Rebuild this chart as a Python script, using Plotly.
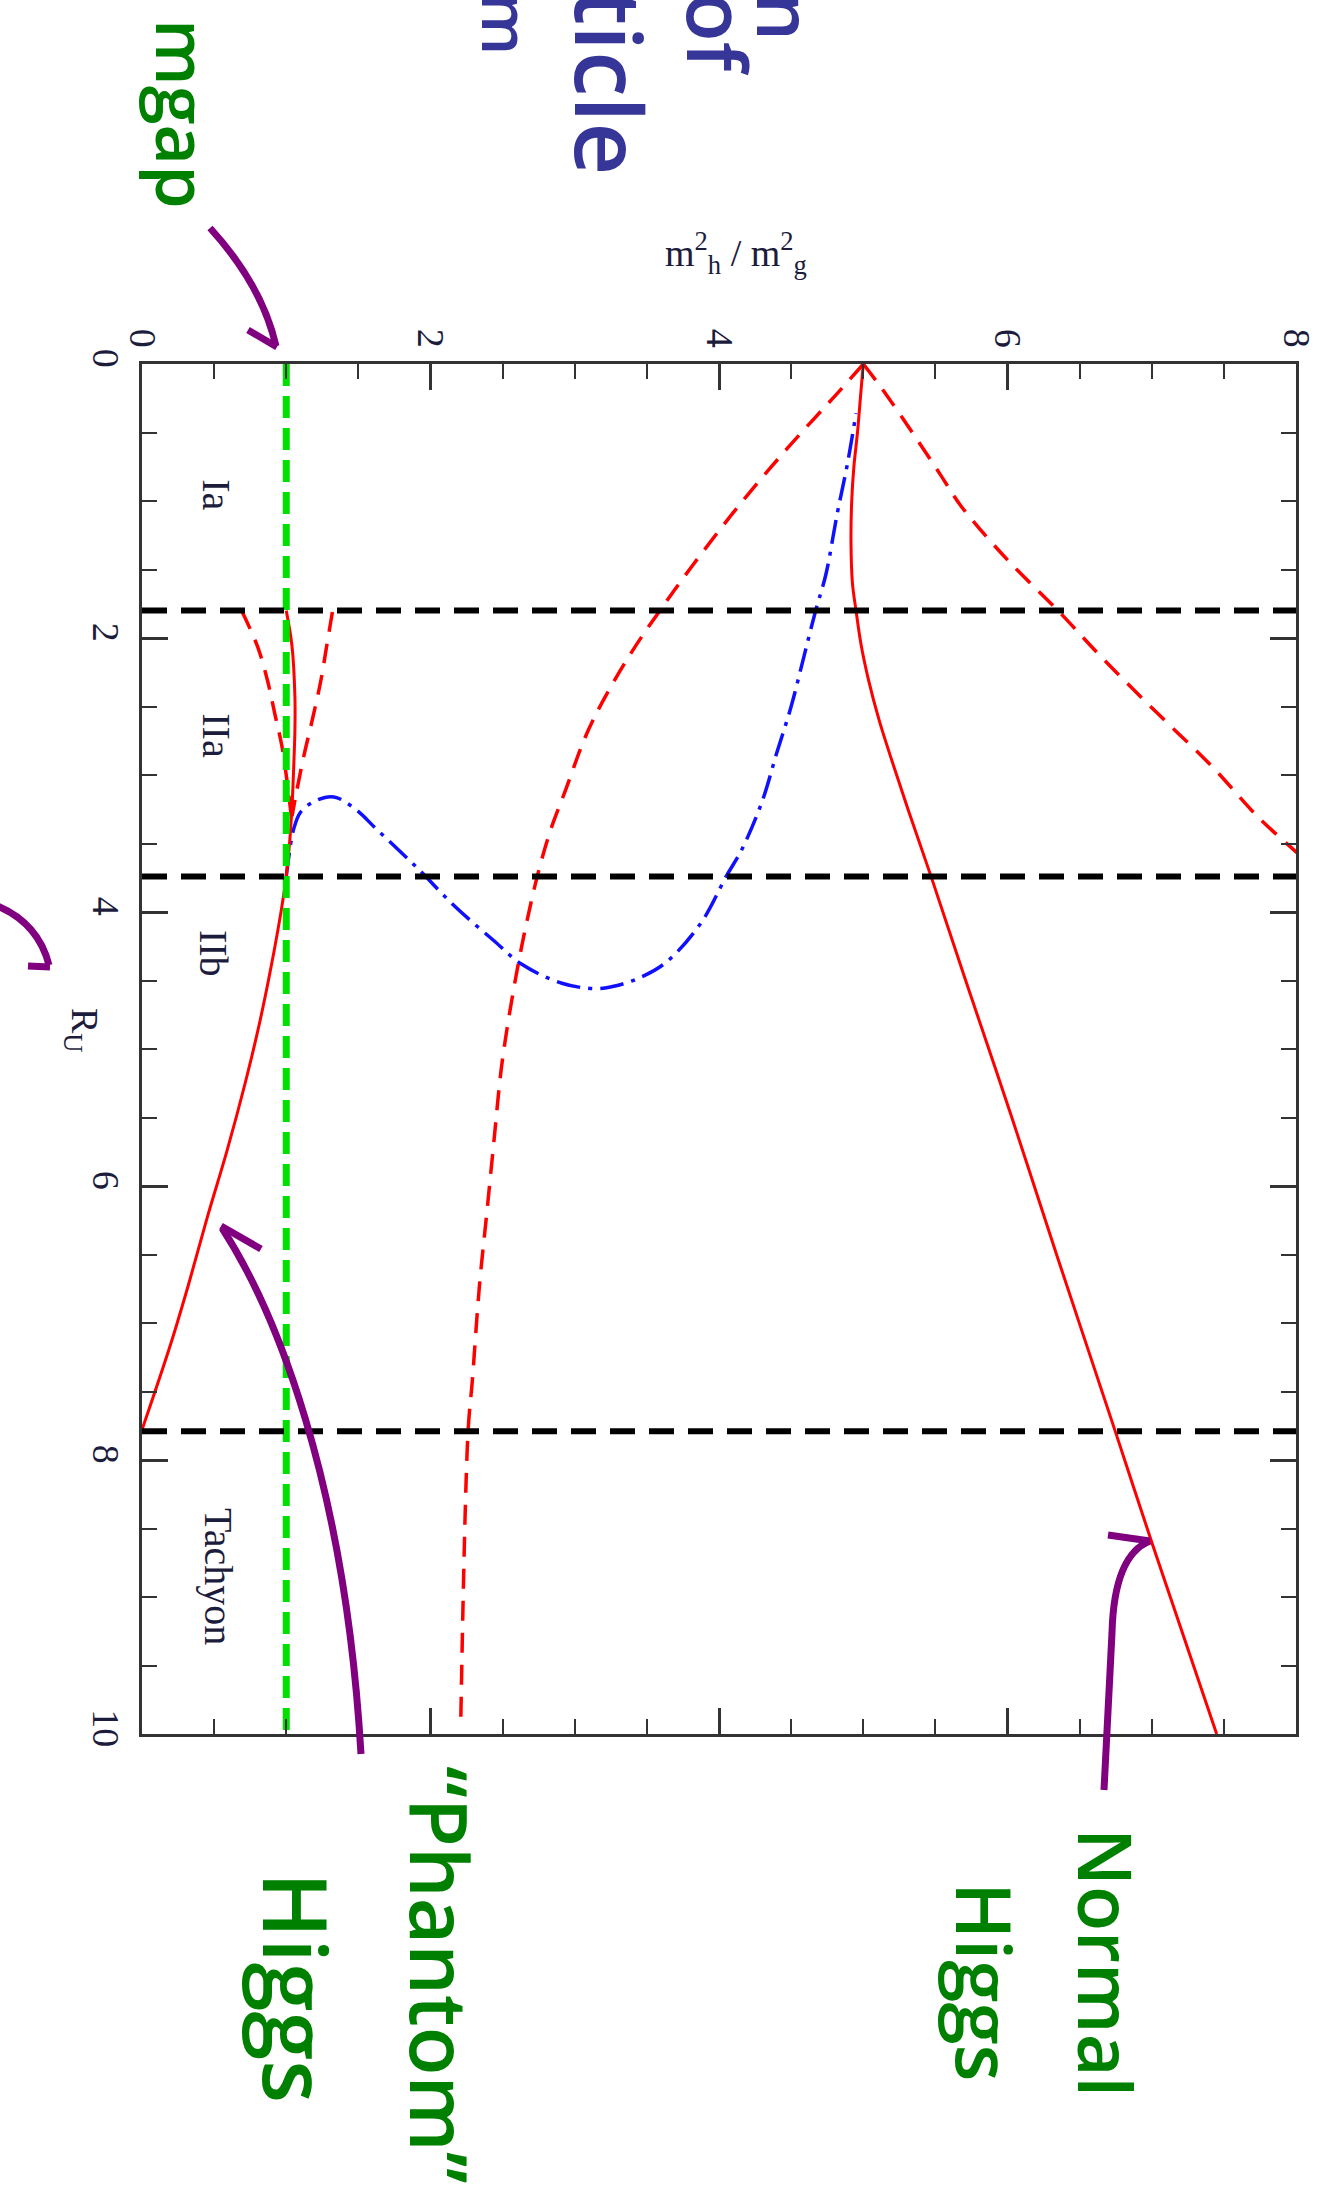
import plotly.graph_objects as go

# ---------------- data ----------------
# Regime boundaries along R_U and the mass-gap reference level
boundary_R = [1.80, 3.74, 7.79]
gap_level = 1.0

region_names = ["Ia", "IIa", "IIb", "Tachyon"]
region_R = [0.95, 2.71, 4.30, 8.85]
region_m = [0.52, 0.52, 0.50, 0.53]

# "Normal" Higgs branch (solid)
normal_R = [0.0, 0.25, 0.5, 0.75, 1.0, 1.3, 1.6, 1.8, 2.05, 2.3, 2.6, 2.9, 3.25,
            3.74, 4.5, 5.5, 6.5, 7.8, 8.6, 10.0]
normal_m = [5.0, 4.98, 4.96, 4.935, 4.92, 4.915, 4.925, 4.95, 4.985, 5.035, 5.11,
            5.2, 5.31, 5.47, 5.71, 6.03, 6.34, 6.75, 7.0, 7.45]

# "Phantom" Higgs branch (solid)
phantom_R = [1.8, 2.06, 2.43, 2.67, 2.99, 3.23, 3.47, 3.74, 3.99, 4.40, 4.81,
             5.25, 5.74, 6.22, 6.71, 7.15, 7.78]
phantom_m = [1.0, 1.04, 1.06, 1.06, 1.05, 1.04, 1.025, 1.0, 0.965, 0.895, 0.815,
             0.715, 0.59, 0.455, 0.325, 0.2, 0.0]

# Dashed branch rising to the right of the cusp
upper_R = [0.0, 0.18, 0.5, 0.8, 1.04, 1.43, 1.8, 2.16, 2.55, 2.94, 3.31, 3.57, 3.75]
upper_m = [5.0, 5.13, 5.34, 5.53, 5.68, 6.0, 6.35, 6.67, 7.04, 7.42, 7.74, 8.01, 8.2]

# Dashed branch falling to the left of the cusp
lower_R = [0.0, 0.18, 0.62, 1.07, 1.48, 1.80, 2.11, 2.47, 2.73, 3.10, 3.41, 3.74,
           4.06, 4.37, 4.79, 5.15, 5.67, 6.20, 6.72, 7.42, 7.8, 9.9]
lower_m = [5.0, 4.85, 4.47, 4.11, 3.81, 3.59, 3.39, 3.19, 3.07, 2.94, 2.83, 2.74,
           2.67, 2.61, 2.54, 2.49, 2.44, 2.39, 2.34, 2.29, 2.26, 2.21]

# Short dashed pair in regime IIa
vleft_R = [1.8, 2.06, 2.31, 2.55, 2.79, 3.04, 3.3]
vleft_m = [0.69, 0.80, 0.87, 0.92, 0.97, 1.005, 1.035]
vright_R = [1.81, 2.06, 2.31, 2.60, 2.87, 3.13, 3.3]
vright_m = [1.32, 1.28, 1.24, 1.18, 1.12, 1.07, 1.04]

# Dash-dot branch
dd_m = [1.0, 1.02, 1.05, 1.1, 1.2, 1.33, 1.48, 1.63, 1.9, 2.17, 2.44, 2.63, 2.91,
        3.15, 3.28, 3.45, 3.63, 3.875, 4.05, 4.16, 4.30, 4.40, 4.50, 4.59, 4.67,
        4.74, 4.82, 4.89, 4.95]
dd_R = [3.74, 3.58, 3.40, 3.27, 3.19, 3.16, 3.25, 3.40, 3.67, 3.96, 4.21, 4.38,
        4.52, 4.56, 4.54, 4.48, 4.37, 4.08, 3.74, 3.54, 3.19, 2.84, 2.50, 2.13,
        1.80, 1.54, 1.09, 0.73, 0.36]

m_ticks = [0, 2, 4, 6, 8]
R_ticks = [0, 2, 4, 6, 8, 10]

# ---------------- figure ----------------
W, H = 1327, 2193
ML, MR, MT, MB = 142, 31, 364, 459
PW, PH = W - ML - MR, H - MT - MB


def paper(px, py):
    """Convert page pixel position to paper coordinates."""
    return (px - ML) / PW, 1 - (py - MT) / PH


def path(cmds):
    """Build an SVG path in paper units from pixel-space commands."""
    out = []
    for c in cmds:
        op, pts = c[0], c[1:]
        coords = []
        for (x, y) in pts:
            xp, yp = paper(x, y)
            coords.append(f"{xp:.5f},{yp:.5f}")
        out.append(op + " " + " ".join(coords))
    return " ".join(out)


fig = go.Figure()


def curve(x, y, color, dash="solid", width=3, smooth=True):
    fig.add_trace(go.Scatter(
        x=x, y=y, mode="lines",
        line=dict(color=color, dash=dash, width=width,
                  shape="spline" if smooth else "linear", smoothing=1.0),
        hoverinfo="skip", showlegend=False))


RED = "#ff0000"
BLUE = "#1010ff"
red_dash = "20px,12px"
blue_dashdot = "24px,8px,4px,8px"

curve(upper_m, upper_R, RED, red_dash, 3.5)
curve(lower_m, lower_R, RED, red_dash, 3.5)
curve(vleft_m, vleft_R, RED, red_dash, 3.5)
curve(vright_m, vright_R, RED, red_dash, 3.5)
curve(dd_m, dd_R, BLUE, blue_dashdot, 3.5)
curve(normal_m, normal_R, RED, "solid", 3)
curve(phantom_m, phantom_R, RED, "solid", 3)

# mass-gap level
curve([gap_level, gap_level], [0, 10], "#00e000", "22px,10px", 7, smooth=False)

# regime boundaries
bx, by = [], []
for r in boundary_R:
    bx += [0, 8, None]
    by += [r, r, None]
curve(bx, by, "#000000", "25px,14px", 6, smooth=False)

tickfont = dict(family="Liberation Serif", size=38, color="#1c1c3c")
axis_common = dict(
    showline=True, linecolor="#333333", linewidth=3, mirror="ticks",
    ticks="inside", ticklen=26, tickwidth=2.5, tickcolor="#333333",
    showgrid=False, zeroline=False, tickangle=90, tickfont=tickfont,
    minor=dict(ticks="inside", dtick=0.5, ticklen=15, tickwidth=2,
               tickcolor="#333333", showgrid=False),
)

fig.update_layout(
    width=W, height=H,
    margin=dict(l=ML, r=MR, t=MT, b=MB, autoexpand=False),
    paper_bgcolor="white", plot_bgcolor="white",
    showlegend=False,
    xaxis=dict(range=[0, 8], side="top", tickvals=m_ticks, **axis_common),
    yaxis=dict(range=[10, 0], tickvals=R_ticks, **axis_common),
)

annotations = []

# regime labels
for name, r, m in zip(region_names, region_R, region_m):
    annotations.append(dict(x=m, y=r, xref="x", yref="y", text=name,
                            textangle=90, showarrow=False,
                            font=dict(family="Liberation Serif", size=40,
                                      color="#1c1c3c")))

# axis titles
x0, y0 = paper(736, 224)
annotations.append(dict(x=x0, y=y0, xref="paper", yref="paper", showarrow=False,
                        text="m<sup>2</sup><sub>h</sub> / m<sup>2</sup><sub>g</sub>",
                        font=dict(family="Liberation Serif", size=38,
                                  color="#1c1c3c")))
x0, y0 = paper(56, 1030)
annotations.append(dict(x=x0, y=y0, xref="paper", yref="paper", showarrow=False,
                        textangle=90, text="R<sub>U</sub>",
                        font=dict(family="Liberation Serif", size=38,
                                  color="#1c1c3c")))

# handwritten notes
GREEN = "#008000"
INK_BLUE = "#363699"
hand = dict(family="Open Sans", weight=600)


def note(text, px, py, color, size, yanchor="middle"):
    xp, yp = paper(px, py)
    annotations.append(dict(x=xp, y=yp, xref="paper", yref="paper",
                            text=text, textangle=90, showarrow=False,
                            xanchor="center", yanchor=yanchor,
                            font=dict(size=size, color=color, **hand)))


note("mgap", 183, 114, GREEN, 70)
note("Normal", 1107, 1962, GREEN, 74)
note("Higgs", 986, 1982, GREEN, 76)
note("\u201cPhantom\u201d", 442, 1975, GREEN, 80)
note("Higgs", 297, 1987, GREEN, 88)

# notes running off the top edge
note("lightest mode in", 786, 43, INK_BLUE, 76, yanchor="bottom")
note("function of", 718, 77, INK_BLUE, 82, yanchor="bottom")
note("particle", 610, 177, INK_BLUE, 92, yanchor="bottom")
note("spectrum", 508, 58, INK_BLUE, 66, yanchor="bottom")

fig.update_layout(annotations=annotations)

# purple pointer arrows
PURPLE = "#800080"
arrows = [
    # to the mass-gap line
    [("M", (210, 228)), ("Q", (262, 285), (276, 346))],
    [("M", (248, 330)), ("L", (277, 347), (276, 312))],
    # to the R_U axis title
    [("M", (-5, 905)), ("Q", (38, 922), (49, 965))],
    [("M", (28, 966)), ("L", (50, 967), (53, 946))],
    # to the phantom branch
    [("M", (361, 1754)), ("C", (345, 1480), (275, 1310), (222, 1228))],
    [("M", (261, 1249)), ("L", (221, 1226), (236, 1283))],
    # to the normal branch
    [("M", (1104, 1790)), ("L", (1112, 1633)), ("Q", (1114, 1555), (1150, 1541))],
    [("M", (1108, 1535)), ("L", (1150, 1541))],
]
shapes = []
for a in arrows:
    shapes.append(dict(type="path", xref="paper", yref="paper", path=path(a),
                       line=dict(color=PURPLE, width=7), layer="above"))
fig.update_layout(shapes=shapes)

fig.write_html("out.html")
